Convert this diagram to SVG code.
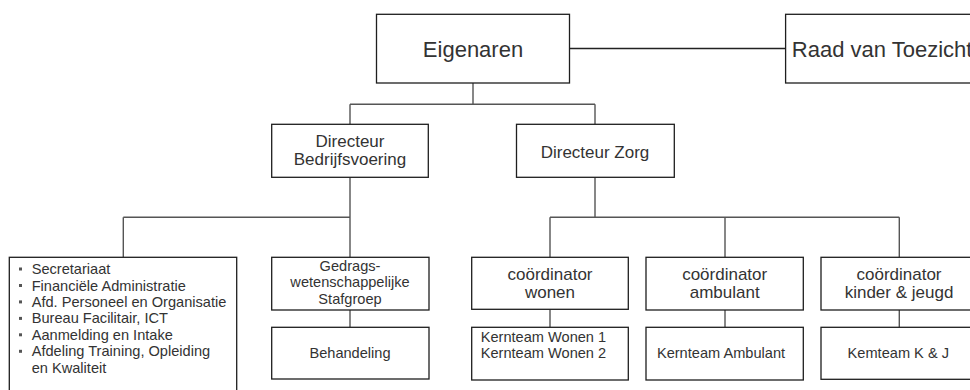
<svg xmlns="http://www.w3.org/2000/svg" width="970" height="390" viewBox="0 0 970 390">
<style>
.box{fill:#fff;stroke:#1e1e1e;stroke-width:1.3}
.ln{fill:none;stroke:#555;stroke-width:1.4}
.t{font-family:"Liberation Sans",Arial,sans-serif;fill:#333}
.big{font-size:22px}
.mid{font-size:17px}
.sm{font-size:14.6px}
.c{text-anchor:middle}
</style>
<rect width="970" height="390" fill="#fff"/>
<g id="connectors">
<line class="ln" x1="569.5" y1="48.5" x2="785.6" y2="48.5" style="stroke:#222"/>
<path class="ln" d="M473 83 V104.3 M350 104.3 H595 M350 104.3 V124.3 M595 104.3 V124.3"/>
<path class="ln" d="M350 177.3 V217.3 M123.3 217.3 H350 M123.3 217.3 V257.3 M350 217.3 V257.3"/>
<path class="ln" d="M595 177.3 V217.3 M550 217.3 H899.3 M550 217.3 V257.3 M725 217.3 V257.3 M899.3 217.3 V257.3"/>
<path class="ln" d="M350 310 V327.3 M550 309.3 V327.3 M725 310 V327.3 M899.3 310 V327.3"/>
</g>
<g id="eigenaren">
<rect class="box" x="376.5" y="14.3" width="193" height="68.7"/>
<text class="t big c" x="473" y="56.5">Eigenaren</text>
</g>
<g id="raad">
<rect class="box" x="785.6" y="14.3" width="193" height="68.7"/>
<text class="t big c" x="882.1" y="56.5">Raad van Toezicht</text>
</g>
<g id="dir-bedrijfsvoering">
<rect class="box" x="271.7" y="124.3" width="156.6" height="53"/>
<text class="t mid c" x="350" y="146.7">Directeur</text>
<text class="t mid c" x="350" y="165.2">Bedrijfsvoering</text>
</g>
<g id="dir-zorg">
<rect class="box" x="516.5" y="124.3" width="157.8" height="53"/>
<text class="t mid c" x="595" y="158.3">Directeur Zorg</text>
</g>
<g id="stafdiensten">
<rect class="box" x="9.3" y="257.3" width="227.4" height="140"/>
<g fill="#555">
<rect x="19" y="267.5" width="3" height="3"/>
<rect x="19" y="284" width="3" height="3"/>
<rect x="19" y="300.4" width="3" height="3"/>
<rect x="19" y="316.9" width="3" height="3"/>
<rect x="19" y="333.3" width="3" height="3"/>
<rect x="19" y="349.8" width="3" height="3"/>
</g>
<text class="t sm" x="31.7" y="274">Secretariaat</text>
<text class="t sm" x="31.7" y="290.5">Financiële Administratie</text>
<text class="t sm" x="31.7" y="306.9">Afd. Personeel en Organisatie</text>
<text class="t sm" x="31.7" y="323.4">Bureau Facilitair, ICT</text>
<text class="t sm" x="31.7" y="339.8">Aanmelding en Intake</text>
<text class="t sm" x="31.7" y="356.3">Afdeling Training, Opleiding</text>
<text class="t sm" x="31.7" y="372.7">en Kwaliteit</text>
</g>
<g id="gedragswetenschappelijk">
<rect class="box" x="271.7" y="257.3" width="157.3" height="52.7"/>
<text class="t sm c" x="350" y="270.7">Gedrags-</text>
<text class="t sm c" x="350" y="287.4">wetenschappelijke</text>
<text class="t sm c" x="350" y="304">Stafgroep</text>
</g>
<g id="behandeling">
<rect class="box" x="271.7" y="327.3" width="157.3" height="51.7"/>
<text class="t sm c" x="350" y="358.4">Behandeling</text>
</g>
<g id="coord-wonen">
<rect class="box" x="471.7" y="257.3" width="156.6" height="52"/>
<text class="t mid c" x="550" y="279.5">coördinator</text>
<text class="t mid c" x="550" y="298.3">wonen</text>
</g>
<g id="coord-ambulant">
<rect class="box" x="646" y="257.3" width="157.3" height="52.7"/>
<text class="t mid c" x="724.7" y="279.5">coördinator</text>
<text class="t mid c" x="724.7" y="298.3">ambulant</text>
</g>
<g id="coord-kinder">
<rect class="box" x="821" y="257.3" width="157" height="52.7"/>
<text class="t mid c" x="899" y="279.5">coördinator</text>
<text class="t mid c" x="899" y="298.3">kinder &amp; jeugd</text>
</g>
<g id="kernteam-wonen">
<rect class="box" x="471.7" y="327.3" width="156.6" height="52.7"/>
<text class="t sm" x="480.7" y="341.7">Kernteam Wonen 1</text>
<text class="t sm" x="480.7" y="358.3">Kernteam Wonen 2</text>
</g>
<g id="kernteam-ambulant">
<rect class="box" x="646" y="327.3" width="157.3" height="52.7"/>
<text class="t sm c" x="721" y="357.5">Kernteam Ambulant</text>
</g>
<g id="kernteam-kj">
<rect class="box" x="821" y="327.3" width="157" height="52"/>
<text class="t sm c" x="898.3" y="358.3">Kemteam K &amp; J</text>
</g>
</svg>
